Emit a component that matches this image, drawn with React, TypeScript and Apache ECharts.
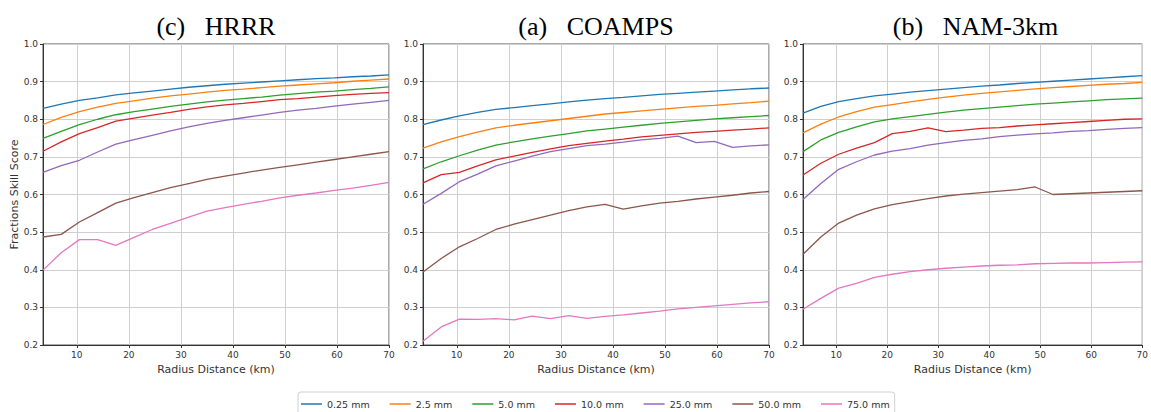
import React, { useEffect, useRef } from "react";
import * as echarts from "echarts";

const radius = [3.5, 7, 10.5, 14, 17.5, 21, 24.5, 28, 31.5, 35, 38.5, 42, 45.5, 49, 52.5, 56, 59.5, 63, 66.5, 70];
const seriesNames = ["0.25 mm", "2.5 mm", "5.0 mm", "10.0 mm", "25.0 mm", "50.0 mm", "75.0 mm"];
const colors = ["#1f77b4", "#ff7f0e", "#2ca02c", "#d62728", "#9467bd", "#8c564b", "#e377c2"];
const panelTitles = ["(c)   HRRR", "(a)   COAMPS", "(b)   NAM-3km"];
const yTicks = [0.2, 0.3, 0.4, 0.5, 0.6, 0.7, 0.8, 0.9, 1.0];

// HRRR
const hrrr025 = [0.829, 0.840, 0.850, 0.857, 0.865, 0.870, 0.875, 0.880, 0.885, 0.889, 0.893, 0.896, 0.899, 0.902, 0.905, 0.908, 0.910, 0.913, 0.915, 0.918];
const hrrr25 = [0.786, 0.805, 0.820, 0.832, 0.842, 0.849, 0.856, 0.862, 0.867, 0.872, 0.877, 0.880, 0.884, 0.888, 0.891, 0.894, 0.897, 0.901, 0.904, 0.907];
const hrrr50 = [0.749, 0.768, 0.786, 0.800, 0.812, 0.820, 0.827, 0.834, 0.840, 0.846, 0.851, 0.855, 0.859, 0.864, 0.868, 0.872, 0.875, 0.879, 0.882, 0.886];
const hrrr100 = [0.715, 0.740, 0.762, 0.778, 0.795, 0.803, 0.811, 0.818, 0.826, 0.833, 0.838, 0.842, 0.847, 0.852, 0.855, 0.859, 0.863, 0.866, 0.869, 0.871];
const hrrr250 = [0.659, 0.677, 0.691, 0.713, 0.734, 0.746, 0.757, 0.769, 0.780, 0.789, 0.797, 0.804, 0.811, 0.818, 0.824, 0.829, 0.835, 0.840, 0.845, 0.850];
const hrrr500 = [0.487, 0.494, 0.527, 0.552, 0.577, 0.592, 0.605, 0.618, 0.629, 0.640, 0.649, 0.657, 0.665, 0.672, 0.679, 0.686, 0.693, 0.700, 0.707, 0.714];
const hrrr750 = [0.399, 0.445, 0.480, 0.480, 0.465, 0.486, 0.507, 0.523, 0.540, 0.556, 0.565, 0.574, 0.582, 0.591, 0.598, 0.604, 0.611, 0.617, 0.624, 0.632];

// COAMPS
const coamps025 = [0.786, 0.798, 0.809, 0.818, 0.826, 0.831, 0.836, 0.841, 0.846, 0.851, 0.855, 0.858, 0.862, 0.866, 0.869, 0.872, 0.875, 0.878, 0.881, 0.883];
const coamps25 = [0.723, 0.740, 0.754, 0.766, 0.777, 0.784, 0.790, 0.796, 0.802, 0.808, 0.814, 0.818, 0.822, 0.826, 0.830, 0.834, 0.837, 0.841, 0.844, 0.848];
const coamps50 = [0.668, 0.687, 0.703, 0.718, 0.731, 0.740, 0.748, 0.755, 0.762, 0.769, 0.774, 0.779, 0.784, 0.789, 0.793, 0.797, 0.801, 0.804, 0.807, 0.810];
const coamps100 = [0.631, 0.653, 0.659, 0.676, 0.692, 0.702, 0.712, 0.721, 0.730, 0.736, 0.742, 0.747, 0.753, 0.757, 0.761, 0.765, 0.768, 0.771, 0.774, 0.777];
const coamps250 = [0.574, 0.603, 0.634, 0.654, 0.676, 0.689, 0.702, 0.714, 0.722, 0.730, 0.734, 0.739, 0.745, 0.749, 0.755, 0.738, 0.741, 0.725, 0.729, 0.732];
const coamps500 = [0.394, 0.430, 0.461, 0.483, 0.507, 0.521, 0.533, 0.545, 0.557, 0.567, 0.574, 0.561, 0.570, 0.577, 0.582, 0.588, 0.593, 0.598, 0.604, 0.608];
const coamps750 = [0.210, 0.248, 0.269, 0.268, 0.270, 0.267, 0.277, 0.270, 0.278, 0.271, 0.276, 0.280, 0.285, 0.290, 0.296, 0.300, 0.304, 0.308, 0.312, 0.315];

// NAM-3km
const nam025 = [0.816, 0.834, 0.847, 0.855, 0.862, 0.867, 0.872, 0.876, 0.880, 0.884, 0.888, 0.891, 0.895, 0.898, 0.901, 0.904, 0.907, 0.910, 0.913, 0.916];
const nam25 = [0.764, 0.787, 0.806, 0.820, 0.832, 0.839, 0.846, 0.853, 0.859, 0.864, 0.869, 0.873, 0.877, 0.881, 0.884, 0.887, 0.890, 0.893, 0.895, 0.898];
const nam50 = [0.714, 0.745, 0.765, 0.780, 0.793, 0.801, 0.807, 0.813, 0.819, 0.824, 0.828, 0.832, 0.836, 0.840, 0.843, 0.846, 0.849, 0.852, 0.854, 0.856];
const nam100 = [0.652, 0.683, 0.707, 0.723, 0.738, 0.762, 0.768, 0.777, 0.767, 0.771, 0.776, 0.778, 0.782, 0.785, 0.788, 0.791, 0.794, 0.797, 0.800, 0.801];
const nam250 = [0.587, 0.629, 0.667, 0.687, 0.705, 0.715, 0.722, 0.731, 0.738, 0.744, 0.748, 0.754, 0.758, 0.761, 0.764, 0.768, 0.770, 0.773, 0.776, 0.778];
const nam500 = [0.441, 0.487, 0.524, 0.545, 0.562, 0.573, 0.581, 0.589, 0.596, 0.601, 0.605, 0.609, 0.613, 0.620, 0.600, 0.602, 0.604, 0.606, 0.608, 0.610];
const nam750 = [0.295, 0.324, 0.351, 0.364, 0.380, 0.388, 0.395, 0.400, 0.404, 0.407, 0.410, 0.412, 0.413, 0.416, 0.417, 0.418, 0.418, 0.419, 0.420, 0.421];

const panels = [
  [hrrr025, hrrr25, hrrr50, hrrr100, hrrr250, hrrr500, hrrr750],
  [coamps025, coamps25, coamps50, coamps100, coamps250, coamps500, coamps750],
  [nam025, nam25, nam50, nam100, nam250, nam500, nam750],
];

const gridLefts = [43, 423, 803];
const gridWidths = [346, 346, 345];

export default function App() {
  const ref = useRef<HTMLDivElement>(null);
  useEffect(() => {
    if (!ref.current) return;
    const chart = echarts.init(ref.current, null, { renderer: "svg" });
    const sans = "DejaVu Sans";
    const grids = gridLefts.map((l, i) => ({
      left: l,
      top: 44,
      width: gridWidths[i],
      height: 301,
      show: true,
      borderColor: "#555",
      borderWidth: 1,
      backgroundColor: "transparent",
    }));
    const xAxes = gridLefts.map((_, i) => ({
      type: "value",
      gridIndex: i,
      min: 3.5,
      max: 70,
      splitNumber: 7,
      name: "Radius Distance (km)",
      nameLocation: "middle",
      nameGap: 15,
      nameTextStyle: { fontFamily: sans, fontSize: 11, color: "#333" },
      axisLine: { show: true, lineStyle: { color: "#333", width: 1 } },
      axisTick: { show: true, length: 3, lineStyle: { color: "#333" } },
      axisLabel: {
        fontFamily: sans,
        fontSize: 9,
        color: "#333",
        margin: 5,
        showMinLabel: false,
        formatter: (v: number) => (Math.abs(v % 10) < 1e-6 ? String(v) : ""),
      },
      splitLine: { show: true, lineStyle: { color: "#cfcfcf", width: 1 } },
    }));
    const yAxes = gridLefts.map((_, i) => ({
      type: "value",
      gridIndex: i,
      min: yTicks[0],
      max: yTicks[yTicks.length - 1],
      interval: 0.1,
      name: i === 0 ? "Fractions Skill Score" : "",
      nameLocation: "middle",
      nameGap: 23,
      nameTextStyle: { fontFamily: sans, fontSize: 11, color: "#333" },
      axisLine: { show: true, lineStyle: { color: "#333", width: 1 } },
      axisTick: { show: true, length: 3, lineStyle: { color: "#333" } },
      axisLabel: {
        fontFamily: sans,
        fontSize: 9,
        color: "#333",
        margin: 5,
        formatter: (v: number) => v.toFixed(1),
      },
      splitLine: { show: true, lineStyle: { color: "#cfcfcf", width: 1 } },
    }));
    const series: any[] = [];
    panels.forEach((panel, pi) => {
      panel.forEach((vals, si) => {
        series.push({
          type: "line",
          name: seriesNames[si],
          xAxisIndex: pi,
          yAxisIndex: pi,
          data: radius.map((r, k) => [r, vals[k]]),
          symbol: "none",
          showSymbol: false,
          lineStyle: { color: colors[si], width: 1.3 },
          itemStyle: { color: colors[si] },
          z: 3,
        });
      });
    });
    chart.setOption({
      animation: false,
      backgroundColor: "#fff",
      grid: grids,
      xAxis: xAxes,
      yAxis: yAxes,
      series,
      legend: {
        data: seriesNames.map((n, i) => ({ name: n, icon: "rect", itemStyle: { color: colors[i], opacity: 0.75 } })),
        left: 298,
        top: 392,
        padding: [7, 5, 7, 3],
        itemWidth: 21,
        itemHeight: 2,
        itemGap: 20,
        borderColor: "#d0d0d0",
        borderWidth: 1,
        borderRadius: 3,
        textStyle: { fontFamily: sans, fontSize: 9.5, color: "#333" },
      },
      graphic: panelTitles.map((t, i) => ({
        type: "text",
        x: gridLefts[i] + gridWidths[i] / 2,
        y: 26,
        style: {
          text: t,
          fontFamily: "Liberation Serif",
          fontSize: 26,
          fill: "#000",
          align: "center",
          verticalAlign: "middle",
        },
      })),
    });
    return () => chart.dispose();
  }, []);
  return (
    <div
      ref={ref}
      style={{ position: "fixed", left: 0, top: 0, width: "1151px", height: "412px" }}
    />
  );
}
